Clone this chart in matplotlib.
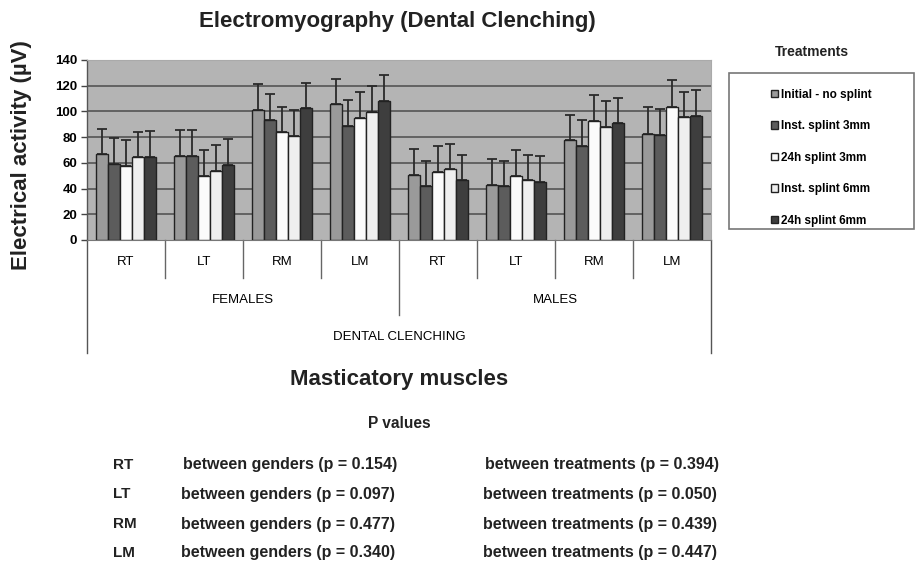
import numpy as np
import matplotlib.pyplot as plt
from matplotlib.patches import Rectangle

plt.rcParams['font.family'] = ['Liberation Sans', 'DejaVu Sans']

# groups: F RT, F LT, F RM, F LM, M RT, M LT, M RM, M LM
muscles = ["RT", "LT", "RM", "LM", "RT", "LT", "RM", "LM"]
genders = ["FEMALES", "MALES"]
treatments = ["Initial - no splint", "Inst. splint 3mm", "24h splint 3mm",
              "Inst. splint 6mm", "24h splint 6mm"]

initial = [66.6, 65.3, 101.4, 105.5, 50.8, 42.8, 77.5, 82.7]
inst3 = [59.3, 65.3, 93.1, 88.7, 42.0, 42.0, 73.1, 81.9]
h24_3 = [57.9, 49.5, 84.2, 94.6, 53.1, 50.0, 92.8, 103.7]
inst6 = [64.3, 53.9, 81.1, 99.6, 55.0, 46.4, 88.1, 95.4]
h24_6 = [64.8, 58.3, 102.4, 108.1, 46.7, 45.4, 91.0, 96.7]

err_initial = [19.7, 20.0, 19.9, 19.7, 19.7, 19.9, 19.7, 20.5]
err_inst3 = [19.8, 20.0, 20.2, 20.4, 19.7, 19.7, 20.0, 20.0]
err_h24_3 = [20.1, 20.3, 19.5, 20.3, 20.0, 20.3, 20.3, 20.7]
err_inst6 = [19.9, 19.7, 20.3, 20.2, 19.7, 20.0, 20.0, 20.0]
err_h24_6 = [20.0, 20.0, 20.0, 20.0, 19.7, 19.9, 19.7, 19.7]

p_muscles = ["RT", "LT", "RM", "LM"]
p_genders = ["0.154", "0.097", "0.477", "0.340"]
p_treatments = ["0.394", "0.050", "0.439", "0.447"]

series = [initial, inst3, h24_3, inst6, h24_6]
errs = [err_initial, err_inst3, err_h24_3, err_inst6, err_h24_6]
colors = ['#9a9a9a', '#5c5c5c', '#fbfbfb', '#efefef', '#3e3e3e']

W, H = 919, 564
fig = plt.figure(figsize=(W / 100, H / 100), dpi=100)
ax = fig.add_axes([87 / W, 1 - 240 / H, 624 / W, 180 / H])
ax.set_facecolor('#b4b4b4')

x = np.arange(8) + 0.5
w = 12 / 78
handles = []
for k, (vals, e, c) in enumerate(zip(series, errs, colors)):
    pos = x + (k - 2) * w
    b = ax.bar(pos, vals, width=w, color=c, edgecolor='#222222', linewidth=1.0,
               zorder=3, label=treatments[k])
    ax.errorbar(pos, vals, yerr=[np.zeros(8), e], fmt='none', ecolor='#2a2a2a',
                elinewidth=1.3, capsize=3.5, capthick=1.3, zorder=2)
    handles.append(b)

ax.set_xlim(0, 8)
ax.set_ylim(0, 140)
ax.set_yticks(range(0, 141, 20))
ax.tick_params(axis='y', direction='out', length=4, width=1, color='#444444',
               labelsize=9.5, pad=3)
for t in ax.get_yticklabels():
    t.set_fontweight('bold')
ax.set_xticks([])
for yv in range(20, 140, 20):
    ax.axhline(yv, color='#555555', linewidth=1.2, zorder=1)

ax.spines['top'].set_color('#aaaaaa')
ax.spines['right'].set_color('#aaaaaa')
ax.spines['bottom'].set_color('#777777')
ax.spines['left'].set_color('#555555')
ax.spines['left'].set_linewidth(1.0)

# category axis below
tr = ax.get_xaxis_transform()
for i in range(1, 8):
    low = -0.417 if i == 4 else -0.211
    ax.plot([i, i], [0, low], transform=tr, color='#666666', lw=1, clip_on=False)
for i in [0, 8]:
    ax.plot([i, i], [0, -0.628], transform=tr, color='#555555', lw=1, clip_on=False)
for i, m in enumerate(muscles):
    ax.text(i + 0.5, -0.122, m, transform=tr, ha='center', va='center', fontsize=9.5)
for j, g in enumerate(genders):
    ax.text(2 + 4 * j, -0.333, g, transform=tr, ha='center', va='center', fontsize=9.5)
ax.text(4, -0.539, "DENTAL CLENCHING", transform=tr, ha='center', va='center',
        fontsize=9.5)

fig.text(397 / W, 1 - 21 / H, "Electromyography (Dental Clenching)", ha='center',
         va='center', fontsize=16, fontweight='bold', color='#222222')
fig.text(22 / W, 1 - 155 / H, "Electrical activity (µV)", rotation=90, ha='center',
         va='center', fontsize=16, fontweight='bold', color='#222222')
fig.text(399 / W, 1 - 380 / H, "Masticatory muscles", ha='center', va='center',
         fontsize=16, fontweight='bold', color='#222222')
fig.text(399 / W, 1 - 423 / H, "P values", ha='center', va='center',
         fontsize=11.2, fontweight='bold', color='#222222')

rows_y = [465, 494, 524, 553]
for r, (m, pg, pt) in enumerate(zip(p_muscles, p_genders, p_treatments)):
    yy = 1 - rows_y[r] / H
    fig.text(113 / W, yy, m, ha='left', va='center', fontsize=11, fontweight='bold',
             color='#222222')
    fig.text((183 if r == 0 else 181) / W, yy, "between genders (p = %s)" % pg,
             ha='left', va='center', fontsize=11.5, fontweight='bold', color='#222222')
    fig.text((485 if r == 0 else 483) / W, yy, "between treatments (p = %s)" % pt,
             ha='left', va='center', fontsize=11.5, fontweight='bold', color='#222222')

# legend
fig.text(812 / W, 1 - 52 / H, "Treatments", ha='center', va='center',
         fontsize=10, fontweight='bold', color='#222222')
fig.patches.append(Rectangle((729 / W, 1 - 229 / H), 185 / W, 156 / H,
                             transform=fig.transFigure, fill=False,
                             edgecolor='#777777', linewidth=1.2))
leg = fig.legend(handles=handles, labels=treatments, loc='upper left',
                 bbox_to_anchor=(760 / W, 1 - 78 / H), frameon=False,
                 fontsize=8.5, handlelength=0.6, handleheight=0.6,
                 handletextpad=0.3, labelspacing=1.65)
for t in leg.get_texts():
    t.set_fontweight('bold')

fig.savefig("out.png", dpi=100)
